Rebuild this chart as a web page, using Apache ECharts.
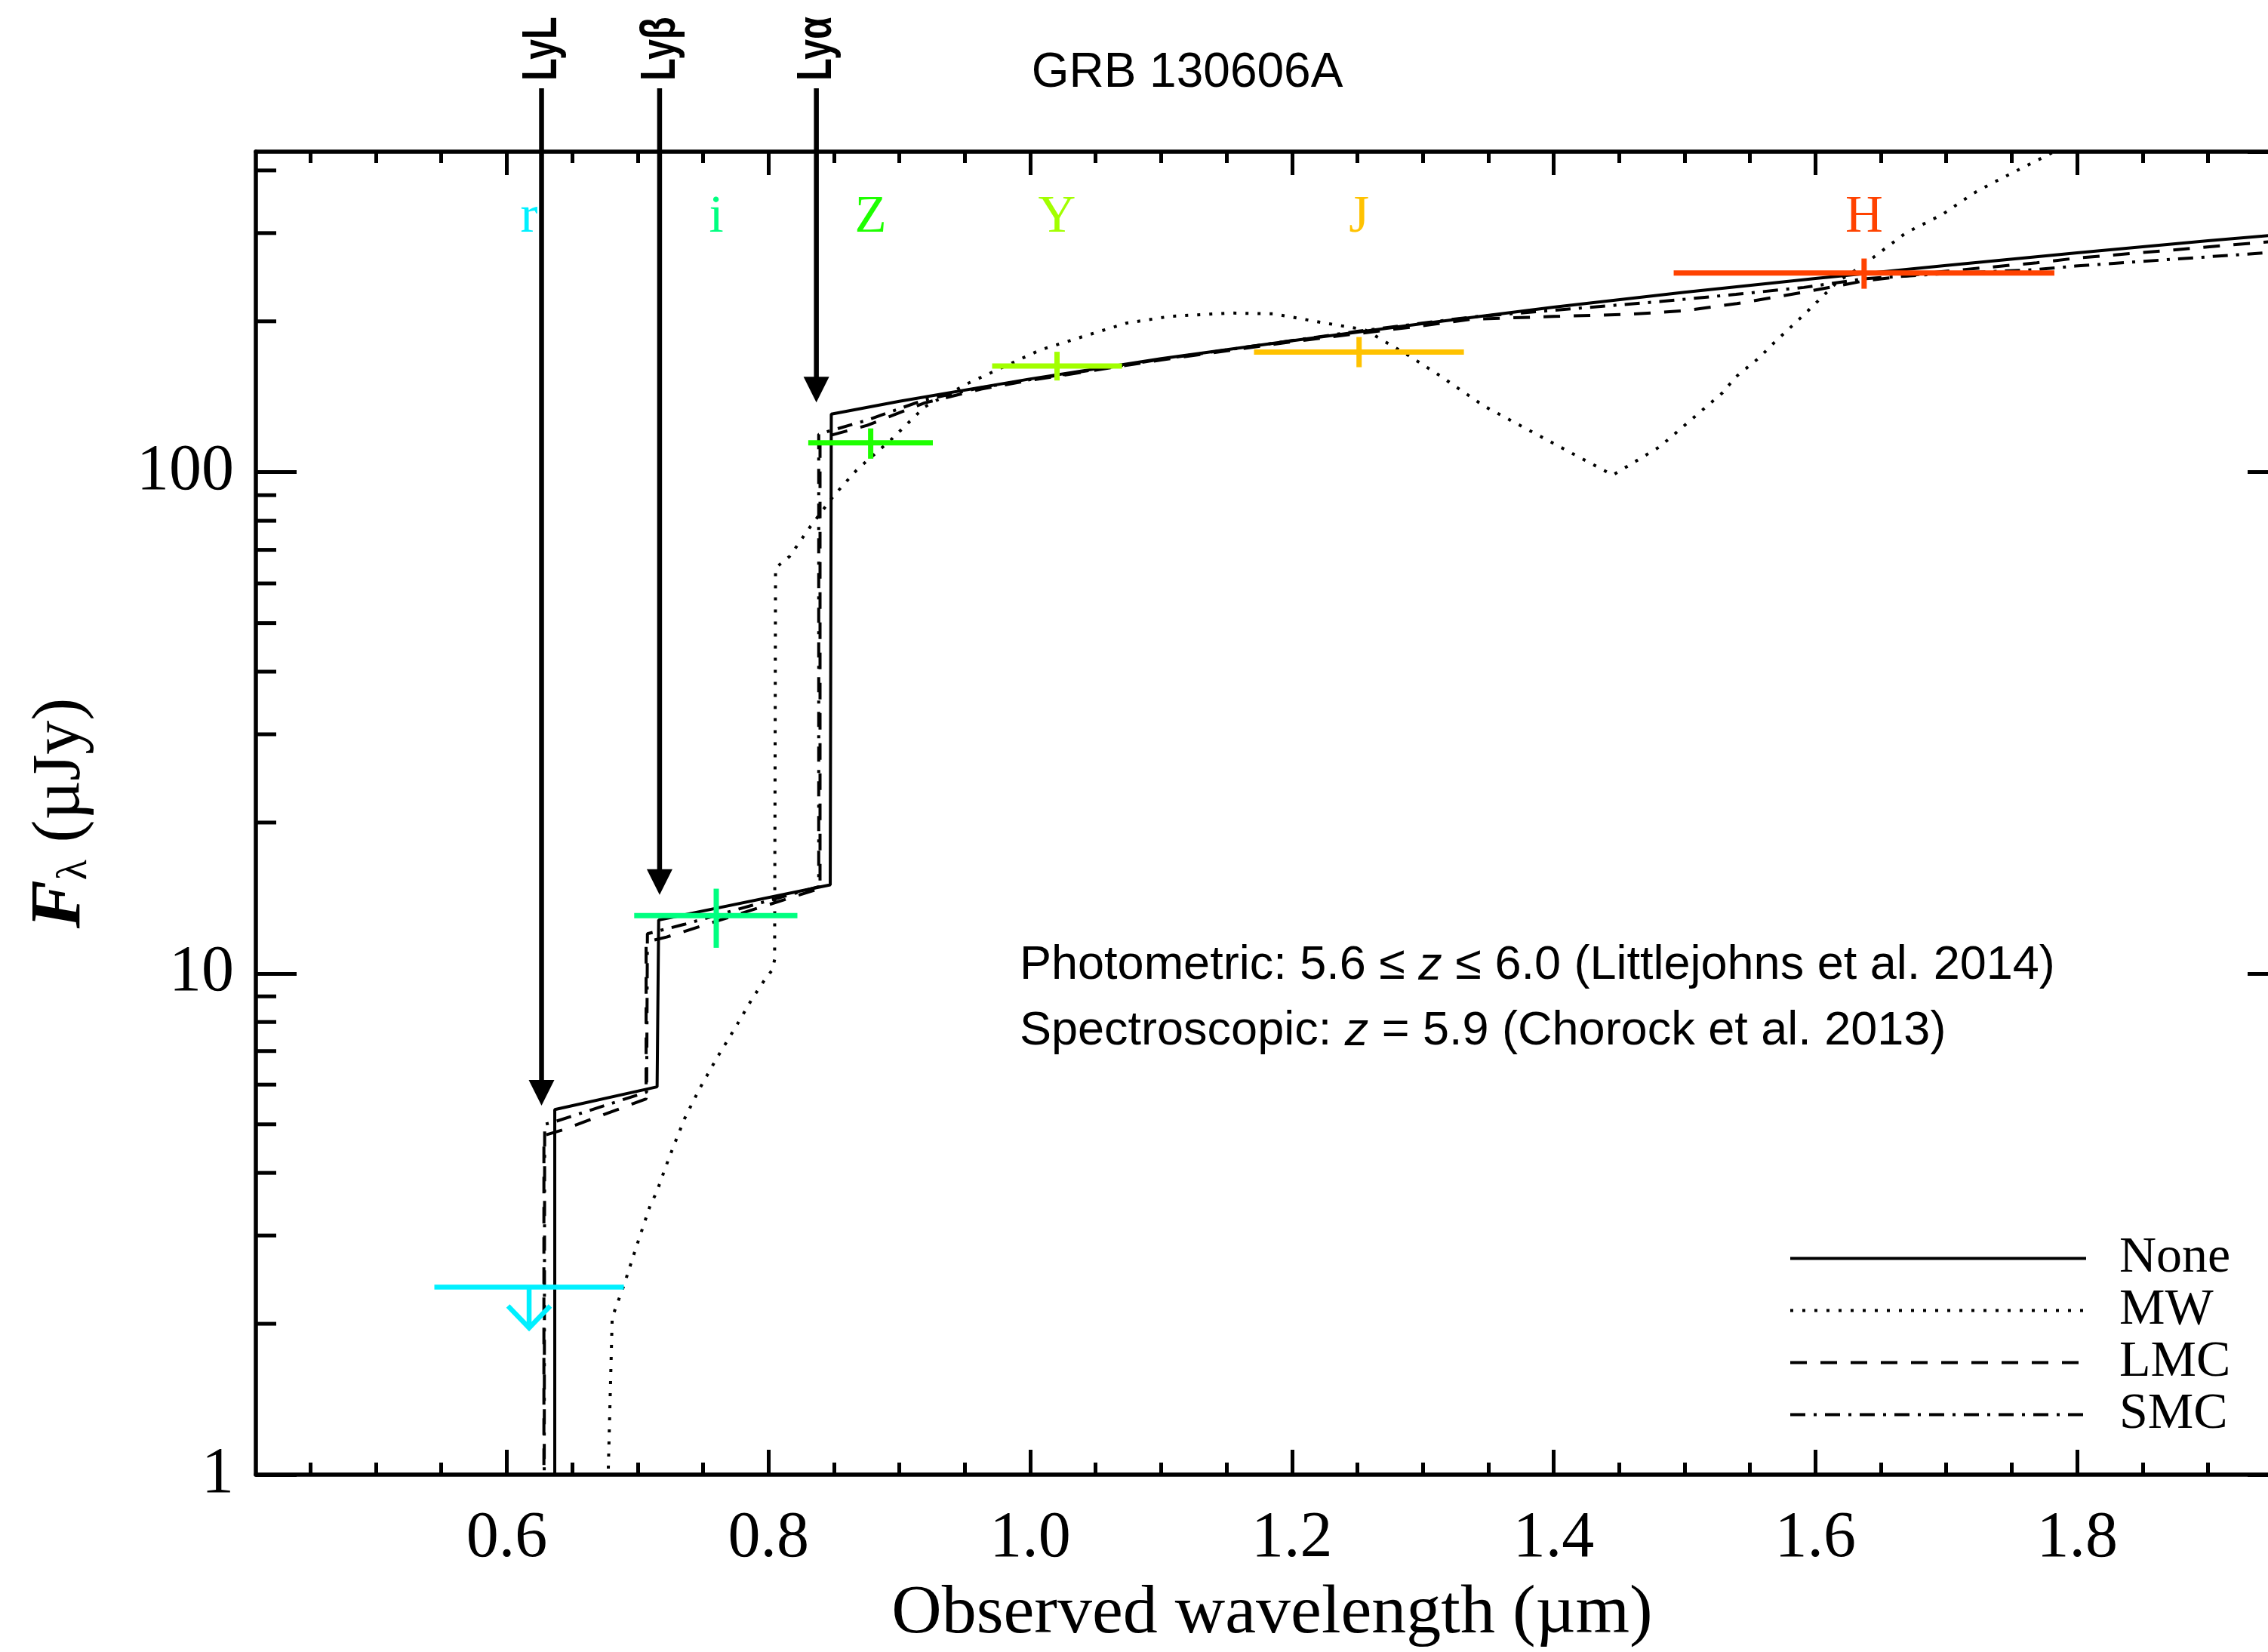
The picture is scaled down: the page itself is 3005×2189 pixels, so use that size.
<!DOCTYPE html>
<html>
<head>
<meta charset="utf-8">
<script src="https://cdn.jsdelivr.net/npm/echarts@6/dist/echarts.min.js"></script>
<style>
  html, body { margin: 0; padding: 0; background: #ffffff; }
  #chart { width: 3005px; height: 2189px; }
</style>
</head>
<body>
<div id="chart"></div>
<script>
// ---- Axis ranges (observed wavelength in µm, flux density in µJy) ----
const X_MIN = 0.4083;
const X_MAX = 1.9614;
const Y_MIN = 1;
const Y_MAX = 436;

const X_MAJOR_TICKS = [0.6, 0.8, 1.0, 1.2, 1.4, 1.6, 1.8];
const X_MINOR_TICKS = [0.45, 0.5, 0.55, 0.65, 0.7, 0.75, 0.85, 0.9, 0.95, 1.05, 1.1, 1.15,
  1.25, 1.3, 1.35, 1.45, 1.5, 1.55, 1.65, 1.7, 1.75, 1.85, 1.9, 1.95];
const Y_MINOR_TICKS = [2, 3, 4, 5, 6, 7, 8, 9, 20, 30, 40, 50, 60, 70, 80, 90, 200, 300, 400];

// ---- Model spectra for the four host-extinction laws ----
const CURVE_NONE = [
  [0.6367, 0.3], [0.6367, 5.35], [0.7149, 5.94], [0.7161, 12.78], [0.8472, 15.02],
  [0.8480, 130.6], [0.90, 138.5], [1.0, 153.5], [1.1, 168.5], [1.2, 183], [1.3, 198],
  [1.4, 213.5], [1.5, 228.5], [1.6, 243.5], [1.7, 258.5], [1.8, 274], [1.9, 289.5], [1.9614, 299]
];
const CURVE_MW = [
  [0.6770, 0.5], [0.6775, 1.0], [0.6806, 2.06], [0.6894, 2.38], [0.6983, 2.81], [0.7097, 3.45],
  [0.7145, 3.66], [0.7242, 4.30], [0.7357, 5.12], [0.7472, 5.88], [0.7607, 6.79], [0.7741, 7.75],
  [0.7876, 8.91], [0.7972, 9.72], [0.8030, 10.17], [0.8047, 10.66], [0.8054, 64.4], [0.8163, 68.0],
  [0.8317, 77.7], [0.8498, 89.7], [0.8678, 101.3], [0.8935, 116], [0.9193, 135], [0.9527, 150.5],
  [0.974, 159.7], [1.0073, 175.2], [1.04, 186.4], [1.0734, 198.3], [1.1066, 204.6], [1.153, 207.8],
  [1.186, 207], [1.2258, 198.3], [1.2556, 192.5], [1.2892, 170.9], [1.3131, 155.8], [1.3468, 135.5],
  [1.3852, 119.7], [1.4188, 107.4], [1.4452, 98.7], [1.4812, 112.5], [1.5292, 144.2], [1.5392, 155],
  [1.558, 170], [1.5652, 178], [1.5911, 206], [1.617, 240], [1.6348, 257], [1.6689, 300],
  [1.6972, 327], [1.7207, 360], [1.7356, 378], [1.7765, 428], [1.80, 462]
];
const CURVE_LMC = [
  [0.6284, 0.3], [0.6284, 4.75], [0.6434, 4.88], [0.7065, 5.62], [0.7065, 11.56], [0.7222, 11.82],
  [0.8376, 14.73], [0.8394, 14.8], [0.8394, 116], [0.845, 118], [0.8754, 124], [0.9193, 137.5],
  [0.9625, 146.5], [1.0, 152.5], [1.1, 167.5], [1.193, 181], [1.25, 189], [1.30, 196], [1.3372, 202],
  [1.40, 204.5], [1.4572, 206.5], [1.50, 210], [1.54, 217], [1.5911, 228.6], [1.6378, 241],
  [1.6948, 251], [1.7691, 261.7], [1.7985, 267.2], [1.9614, 290.5]
];
const CURVE_SMC = [
  [0.6284, 0.3], [0.6290, 5.0], [0.6357, 5.05], [0.7069, 5.80], [0.7075, 12.0], [0.7357, 12.53],
  [0.8384, 14.9], [0.8384, 119], [0.845, 120.5], [0.8754, 127], [0.9193, 139.5], [0.9625, 147.5],
  [1.0, 153], [1.1, 168], [1.193, 182], [1.25, 191], [1.3372, 204], [1.4812, 219], [1.5392, 226.4],
  [1.5911, 233.7], [1.6378, 243.3], [1.6948, 248.7], [1.7691, 253.7], [1.7985, 257.8], [1.9614, 276]
];

// ---- Photometry: detections with errors ----
const BAND_NAMES = ['i', 'Z', 'Y', 'J', 'H'];
const BAND_CENTER = [0.7601, 0.8781, 1.0205, 1.2513, 1.6372];
const BAND_LO = [0.6974, 0.8304, 0.9709, 1.1710, 1.4917];
const BAND_HI = [0.8221, 0.9256, 1.0702, 1.3314, 1.7826];
const BAND_FLUX = [13.04, 114.5, 162.9, 173.6, 249.8];
const BAND_FLUX_LO = [11.25, 106.4, 152.4, 162.0, 232.3];
const BAND_FLUX_HI = [14.76, 122.3, 173.9, 186.1, 266.9];
const BAND_COLORS = ['#00FF80', '#1EFF00', '#A2FF00', '#FFC200', '#FF4200'];

// ---- Photometry: upper limits ----
const LIMIT_NAMES = ['r'];
const LIMIT_CENTER = [0.6171];
const LIMIT_LO = [0.5447];
const LIMIT_HI = [0.6895];
const LIMIT_FLUX = [2.366];
const LIMIT_COLORS = ['#00F0FF'];

// ---- Lyman features at the burst redshift ----
const LYMAN_NAMES = ['LyL', 'Lyβ', 'Lyα'];
const LYMAN_WAVE = [0.6266, 0.7168, 0.8366];
const LYMAN_TIP_FLUX = [5.45, 14.35, 137.8];

// ---- Styling ----
const SERIF = '"Liberation Serif", "Times New Roman", serif';
const SANS = '"Liberation Sans", Arial, sans-serif';
const AXIS_W = 5.5;
const TICK_W = 5;
const CURVE_W = 4;
const LETTER_ROW_FLUX = 322; // height of the filter letters inside the frame

const chart = echarts.init(document.getElementById('chart'), null, { renderer: 'canvas' });

function xAxisDef(position, ticks, len, showLine, showLabel) {
  return {
    type: 'value', position: position, min: X_MIN, max: X_MAX, gridIndex: 0,
    axisLine: { show: showLine, lineStyle: { color: '#000', width: AXIS_W } },
    axisTick: { show: true, inside: true, length: len, customValues: ticks,
      lineStyle: { color: '#000', width: TICK_W } },
    axisLabel: showLabel ? {
      show: true, customValues: ticks, margin: 42, color: '#000',
      fontFamily: SERIF, fontSize: 86,
      formatter: v => Number(v).toFixed(1)
    } : { show: false },
    splitLine: { show: false }
  };
}

const bandData = BAND_CENTER.map((c, i) =>
  [c, BAND_FLUX[i], BAND_LO[i], BAND_HI[i], BAND_FLUX_LO[i], BAND_FLUX_HI[i]]);
const limitData = LIMIT_CENTER.map((c, i) => [c, LIMIT_FLUX[i], LIMIT_LO[i], LIMIT_HI[i]]);
const letterNames = LIMIT_NAMES.concat(BAND_NAMES);
const letterColors = LIMIT_COLORS.concat(BAND_COLORS);
const letterData = LIMIT_CENTER.concat(BAND_CENTER).map(c => [c, LETTER_ROW_FLUX]);
const lymanData = LYMAN_WAVE.map((w, i) => [w, LYMAN_TIP_FLUX[i]]);

function modelLine(name, data, dash) {
  return {
    name: name, type: 'line', data: data, symbol: 'none', showSymbol: false,
    clip: true, z: 3, silent: true,
    itemStyle: { color: '#000' },
    lineStyle: { color: '#000', width: CURVE_W, type: dash, cap: 'butt' }
  };
}

const option = {
  backgroundColor: '#ffffff',
  animation: false,
  grid: { left: 339, top: 201, width: 2693, height: 1753, containLabel: false, outerBoundsMode: 'none' },
  xAxis: [
    Object.assign(xAxisDef('bottom', X_MAJOR_TICKS, 33, true, true), {
      name: 'Observed wavelength (µm)', nameLocation: 'middle', nameGap: 139,
      nameTextStyle: { fontFamily: SERIF, fontSize: 92, color: '#000' }
    }),
    xAxisDef('bottom', X_MINOR_TICKS, 16, false, false),
    xAxisDef('top', X_MAJOR_TICKS, 31, true, false),
    xAxisDef('top', X_MINOR_TICKS, 15, false, false)
  ],
  yAxis: [
    {
      type: 'log', logBase: 10, position: 'left', min: Y_MIN, max: Y_MAX,
      axisLine: { show: true, lineStyle: { color: '#000', width: AXIS_W } },
      axisTick: { show: true, inside: true, length: 54, lineStyle: { color: '#000', width: TICK_W } },
      axisLabel: { show: true, margin: 29, color: '#000', fontFamily: SERIF, fontSize: 86,
        showMaxLabel: false, formatter: v => String(Math.round(v)) },
      splitLine: { show: false },
      name: '{f|F}{s|λ}{n| (µJy)}', nameLocation: 'middle', nameGap: 212, nameRotate: 90,
      nameTextStyle: {
        rich: {
          f: { fontFamily: SERIF, fontStyle: 'italic', fontWeight: 'bold', fontSize: 96, lineHeight: 92, color: '#000' },
          s: { fontFamily: SERIF, fontSize: 56, lineHeight: 50, verticalAlign: 'bottom', color: '#000' },
          n: { fontFamily: SERIF, fontSize: 90, lineHeight: 92, color: '#000' }
        }
      }
    },
    {
      type: 'log', logBase: 10, position: 'right', min: Y_MIN, max: Y_MAX,
      axisLine: { show: true, lineStyle: { color: '#000', width: AXIS_W } },
      axisTick: { show: true, inside: true, length: 54, lineStyle: { color: '#000', width: TICK_W } },
      axisLabel: { show: false },
      splitLine: { show: false }
    }
  ],
  legend: {
    orient: 'vertical', left: 2370, top: 1633, padding: 0,
    itemWidth: 392, itemHeight: 14, itemGap: 0, selectedMode: false,
    data: ['None', 'MW', 'LMC', 'SMC'],
    itemStyle: { opacity: 0, borderWidth: 0 },
    lineStyle: { width: 'inherit' },
    textStyle: { fontFamily: SERIF, fontSize: 68, color: '#000', lineHeight: 69, padding: [0, 0, 0, 39] }
  },
  graphic: [
    {
      type: 'text', x: 1573, y: 97, silent: true,
      style: { text: 'GRB 130606A', font: '64px ' + SANS, fill: '#000',
        align: 'center', verticalAlign: 'middle', textAlign: 'center', textVerticalAlign: 'middle' }
    },
    {
      type: 'text', x: 1351, y: 1280, silent: true,
      style: {
        text: 'Photometric: 5.6 ≤ {i|z} ≤ 6.0 (Littlejohns et al. 2014)',
        font: '63px ' + SANS, fill: '#000',
        align: 'left', verticalAlign: 'middle', textAlign: 'left', textVerticalAlign: 'middle',
        rich: { i: { font: 'italic 63px ' + SANS, fill: '#000' } }
      }
    },
    {
      type: 'text', x: 1351, y: 1367, silent: true,
      style: {
        text: 'Spectroscopic: {i|z} = 5.9 (Chorock et al. 2013)',
        font: '63px ' + SANS, fill: '#000',
        align: 'left', verticalAlign: 'middle', textAlign: 'left', textVerticalAlign: 'middle',
        rich: { i: { font: 'italic 63px ' + SANS, fill: '#000' } }
      }
    }
  ],
  series: [
    // minor ticks of the logarithmic flux axis, on both vertical sides of the frame
    {
      type: 'custom', silent: true, clip: false, z: 2,
      data: Y_MINOR_TICKS.map(v => [X_MIN, v]),
      renderItem: (params, api) => {
        const v = api.value(1);
        const l = api.coord([X_MIN, v]);
        const r = api.coord([X_MAX, v]);
        const st = { stroke: '#000', lineWidth: TICK_W };
        return { type: 'group', children: [
          { type: 'line', shape: { x1: l[0], y1: l[1], x2: l[0] + 27, y2: l[1] }, style: st },
          { type: 'line', shape: { x1: r[0], y1: r[1], x2: r[0] - 27, y2: r[1] }, style: st }
        ] };
      }
    },
    modelLine('None', CURVE_NONE, 'solid'),
    modelLine('MW', CURVE_MW, [4, 12]),
    modelLine('LMC', CURVE_LMC, [22, 18]),
    modelLine('SMC', CURVE_SMC, [20, 11, 4, 11]),
    // detections: bandwidth and flux error bars
    {
      type: 'custom', silent: true, clip: false, z: 5,
      data: bandData,
      renderItem: (params, api) => {
        const c = BAND_COLORS[params.dataIndex];
        const a = api.coord([api.value(2), api.value(1)]);
        const b = api.coord([api.value(3), api.value(1)]);
        const lo = api.coord([api.value(0), api.value(4)]);
        const hi = api.coord([api.value(0), api.value(5)]);
        const st = { stroke: c, lineWidth: 7 };
        return { type: 'group', children: [
          { type: 'line', shape: { x1: a[0], y1: a[1], x2: b[0], y2: b[1] }, style: st },
          { type: 'line', shape: { x1: lo[0], y1: lo[1], x2: hi[0], y2: hi[1] }, style: st }
        ] };
      }
    },
    // upper limits: bandwidth bar with a downward arrow
    {
      type: 'custom', silent: true, clip: false, z: 5,
      data: limitData,
      renderItem: (params, api) => {
        const c = LIMIT_COLORS[params.dataIndex];
        const a = api.coord([api.value(2), api.value(1)]);
        const b = api.coord([api.value(3), api.value(1)]);
        const m = api.coord([api.value(0), api.value(1)]);
        const st = { stroke: c, lineWidth: 6.5, fill: null };
        return { type: 'group', children: [
          { type: 'line', shape: { x1: a[0], y1: a[1], x2: b[0], y2: b[1] }, style: st },
          { type: 'line', shape: { x1: m[0], y1: m[1], x2: m[0], y2: m[1] + 54 }, style: st },
          { type: 'polyline', shape: { points: [[m[0] - 28, m[1] + 25], [m[0], m[1] + 54], [m[0] + 28, m[1] + 25]] }, style: st }
        ] };
      }
    },
    // filter letters
    {
      type: 'custom', silent: true, clip: false, z: 5,
      data: letterData,
      renderItem: (params, api) => {
        const p = api.coord([api.value(0), api.value(1)]);
        return {
          type: 'text', x: p[0], y: p[1],
          style: { text: letterNames[params.dataIndex], fill: letterColors[params.dataIndex],
            font: '69px ' + SERIF, align: 'center', verticalAlign: 'middle' }
        };
      }
    },
    // Lyman limit / Lyβ / Lyα markers (condensed bold labels, reading upward)
    {
      type: 'custom', silent: true, clip: false, z: 6,
      data: lymanData,
      renderItem: (params, api) => {
        const w = api.value(0);
        const tip = api.coord([w, api.value(1)]);
        const topY = api.coord([w, Y_MAX])[1] - 84;
        const x = tip[0];
        return { type: 'group', children: [
          { type: 'line', shape: { x1: x, y1: topY, x2: x, y2: tip[1] - 30 },
            style: { stroke: '#000', lineWidth: 6.5 } },
          { type: 'polygon', shape: { points: [[x - 17, tip[1] - 34], [x + 17, tip[1] - 34], [x, tip[1]]] },
            style: { fill: '#000' } },
          { type: 'text', x: x + 2, y: topY - 10, rotation: Math.PI / 2, scaleX: 0.76, scaleY: 1,
            style: { text: LYMAN_NAMES[params.dataIndex], fill: '#000',
              font: 'bold 64px ' + SANS, align: 'left', verticalAlign: 'middle' } }
        ] };
      }
    }
  ]
};

chart.setOption(option);
</script>
</body>
</html>
